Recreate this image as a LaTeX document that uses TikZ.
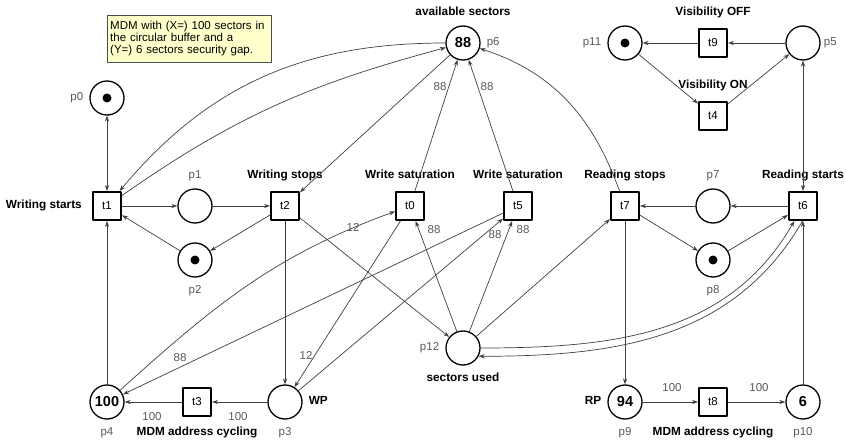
\documentclass[tikz,border=0pt]{standalone}
\usepackage{fontspec}
\setmainfont{Liberation Sans}
\usetikzlibrary{arrows.meta}
\definecolor{memo}{HTML}{FFFFCC}
\begin{document}
\begin{tikzpicture}[x=1pt, y=1pt, font=\fontsize{11.5}{12}\selectfont, line join=round, line cap=round, >={Stealth[length=6pt,width=4.2pt]},
	place/.style={circle, draw, line width=1.3pt, minimum size=34pt, inner sep=0pt},
	trans/.style={rectangle, draw, line width=2pt, minimum size=28pt, inner sep=0pt},
	tok/.style={path picture={\fill (path picture bounding box.center) circle (4.5pt);}},
	mk/.style={font=\bfseries\fontsize{14.5}{15}\selectfont},
	nm/.style={text=black!65, font=\fontsize{11.5}{12}\selectfont, text height=8pt, text depth=2.5pt, inner sep=1pt},
	bl/.style={text=black, font=\bfseries\fontsize{11.8}{12}\selectfont, text height=8pt, text depth=2.5pt, inner sep=1pt},
	wt/.style={text=black!65, inner sep=0pt},
	flow/.style={->, draw=black!75, line width=0.7pt}]
	\useasboundingbox (0,0) rectangle (846,445);
	% note
	\node[draw=black!70, fill=memo, anchor=north west, minimum width=164pt, minimum height=47pt, text width=158pt, inner sep=3pt, align=left] (note) at (107,430)
		{MDM with (X=) 100 sectors in\\the circular buffer and a\\(Y=) 6 sectors security gap.};
	% writing side
	\node[place, tok, label={[nm,label distance=5pt]left:p0}] (p0) at (107,347) {};
	\node[trans, label={[bl,label distance=9pt]left:Writing starts}] (t1) at (107,239) {t1};
	\node[place, label={[nm,label distance=6.5pt]above:p1}] (p1) at (195,239) {};
	\node[trans, label={[bl,label distance=9pt]above:Writing stops}] (t2) at (285,239) {t2};
	\node[place, tok, label={[nm,label distance=6.5pt]below:p2}] (p2) at (195,185) {};
	\node[place, mk, label={[nm,label distance=6.5pt]below:p4}] (p4) at (107,43) {100};
	\node[trans, label={[bl,label distance=9pt]below:MDM address cycling}] (t3) at (197,43) {t3};
	\node[place, label={[nm,label distance=6.5pt]below:p3}, label={[bl,label distance=5pt]right:WP}] (p3) at (285,43) {};
	\node[trans, label={[bl,label distance=9pt]above:Write saturation}] (t0) at (410,239) {t0};
	\node[trans, label={[bl,label distance=9pt]above:Write saturation}] (t5) at (518,239) {t5};
	\node[place, mk, label={[nm,label distance=5pt]right:p6}, label={[bl,label distance=6.5pt]above:available sectors}] (p6) at (463,402) {88};
	\node[place, label={[nm,label distance=5pt]left:p12}, label={[bl,label distance=6.5pt]below:sectors used}] (p12) at (463,97) {};
	% reading side
	\node[place, tok, label={[nm,label distance=5pt]left:p11}] (p11) at (625,402) {};
	\node[trans, label={[bl,label distance=9pt]above:Visibility OFF}] (t9) at (713,402) {t9};
	\node[place, label={[nm,label distance=2pt]right:p5}] (p5) at (803,402) {};
	\node[trans, label={[bl,label distance=9pt]above:Visibility ON}] (t4) at (713,329) {t4};
	\node[trans, label={[bl,label distance=9pt]above:Reading stops}] (t7) at (625,239) {t7};
	\node[place, label={[nm,label distance=6.5pt]above:p7}] (p7) at (713,239) {};
	\node[trans, label={[bl,label distance=9pt]above:Reading starts}] (t6) at (803,239) {t6};
	\node[place, tok, label={[nm,label distance=6.5pt]below:p8}] (p8) at (713,185) {};
	\node[place, mk, label={[nm,label distance=6.5pt]below:p9}, label={[bl,label distance=5pt]left:RP}] (p9) at (625,43) {94};
	\node[trans, label={[bl,label distance=9pt]below:MDM address cycling}] (t8) at (713,43) {t8};
	\node[place, mk, label={[nm,label distance=6.5pt]below:p10}] (p10) at (803,43) {6};
	% arcs, writing side
	\draw[flow,<->] (p0) -- (t1);
	\draw[flow] (t1) -- (p1);
	\draw[flow] (p1) -- (t2);
	\draw[flow] (t2) -- (p2);
	\draw[flow] (p2) -- (t1);
	\draw[flow] (p4) -- (t1);
	\draw[flow] (p6) to[out=180,in=50] (t1);
	\draw[flow] (t1) to[out=35,in=195] (p6);
	\draw[flow] (p6) -- (t2);
	\draw[flow] (t2) -- (p3);
	\draw[flow] (t2) -- (p12);
	\draw[flow] (p3) -- (t3);
	\draw[flow] (t3) -- (p4);
	\draw[flow] (p4) to[out=42,in=200] (t0);
	\draw[flow] (t0) -- (p3);
	\draw[flow] (t5) -- (p4);
	\draw[flow] (p3) -- (t5);
	\draw[flow] (t0) -- (p6);
	\draw[flow] (t5) -- (p6);
	\draw[flow] (p12) -- (t0);
	\draw[flow] (p12) -- (t5);
	% arcs, reading side
	\draw[flow] (p12) -- (t7);
	\draw[flow] (t7) to[out=110,in=-18] (p6);
	\draw[flow] (t6) -- (p7);
	\draw[flow] (p7) -- (t7);
	\draw[flow] (t7) -- (p8);
	\draw[flow] (p8) -- (t6);
	\draw[flow] (t7) -- (p9);
	\draw[flow] (p9) -- (t8);
	\draw[flow] (t8) -- (p10);
	\draw[flow] (p10) -- (t6);
	\draw[flow,<->] (p5) -- (t6);
	\draw[flow] (p5) -- (t9);
	\draw[flow] (t9) -- (p11);
	\draw[flow] (p11) -- (t4);
	\draw[flow] (t4) -- (p5);
	\draw[flow] (p12) to[out=0,in=-120] (t6);
	\draw[flow] (t6.-92) to[out=-120,in=0] (p12.-28);
	% weights
	\node[wt] (w1) at (440,358) {88};
	\node[wt] (w2) at (487,358) {88};
	\node[wt] (w3) at (353,218) {12};
	\node[wt] (w4) at (434,215) {88};
	\node[wt] (w5) at (495,210) {88};
	\node[wt] (w6) at (523,215) {88};
	\node[wt] (w7) at (306,90) {12};
	\node[wt] (w8) at (180,87) {88};
	\node[wt] (w9) at (152,28) {100};
	\node[wt] (w10) at (238,28) {100};
	\node[wt] (w11) at (672,57) {100};
	\node[wt] (w12) at (759,57) {100};
\end{tikzpicture}
\end{document}
